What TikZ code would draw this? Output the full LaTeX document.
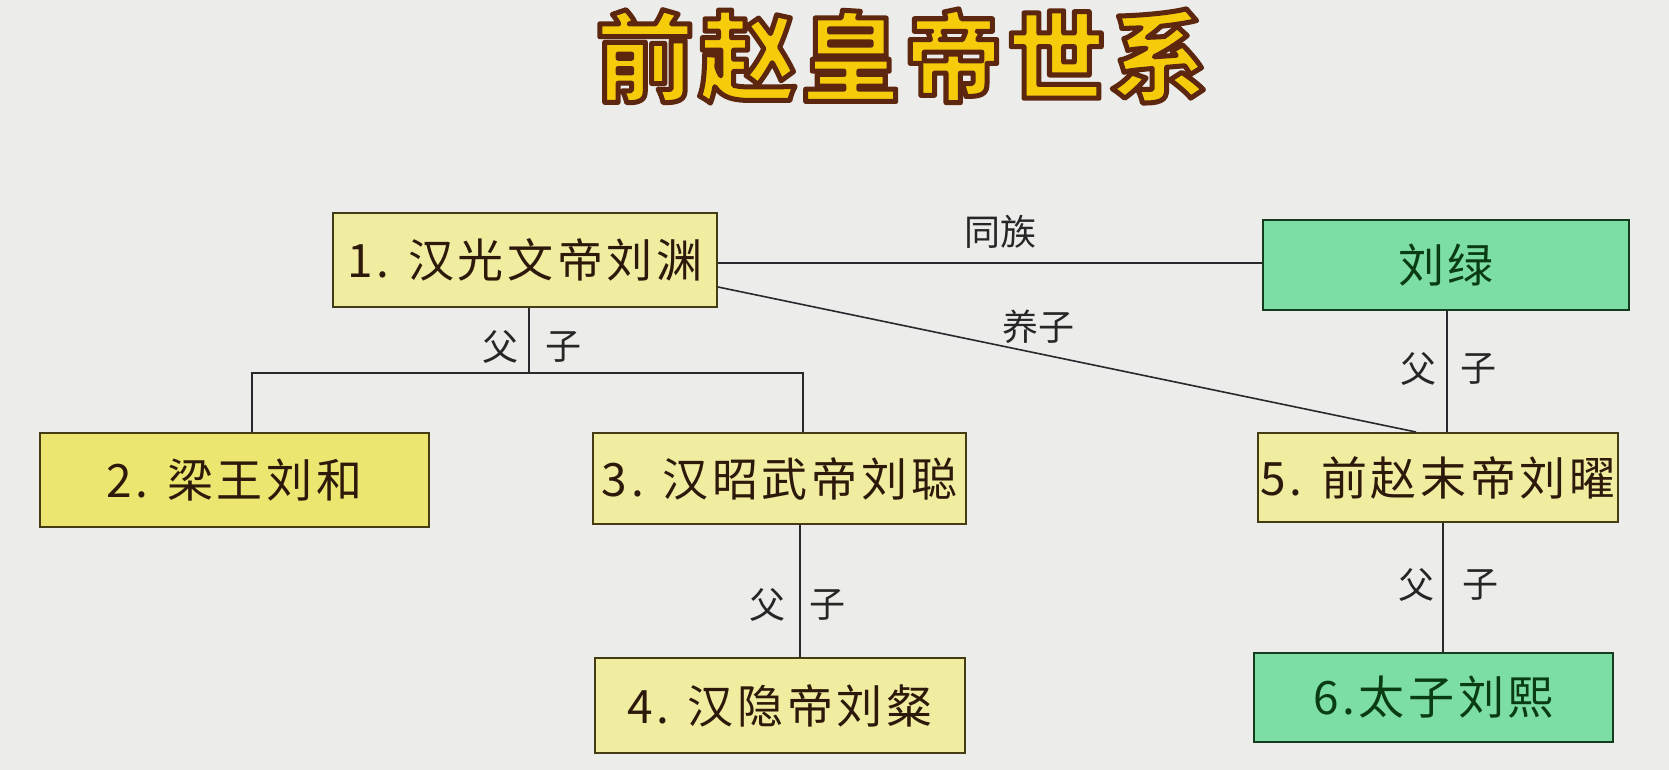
\documentclass[tikz,border=0pt]{standalone}
\usepackage{fontspec}
\newfontfamily\cjk{Noto Sans CJK SC}
\newfontfamily\cjkbox[LetterSpace=8]{Noto Sans CJK SC}
\newfontfamily\cjktitle[LetterSpace=5]{Noto Sans CJK SC}
\definecolor{bg}{RGB}{236,236,234}
\definecolor{yfill}{RGB}{240,236,160}
\definecolor{yfilltwo}{RGB}{236,230,112}
\definecolor{ydraw}{RGB}{70,60,20}
\definecolor{ytext}{RGB}{45,25,10}
\definecolor{gfill}{RGB}{124,222,162}
\definecolor{gdraw}{RGB}{20,60,30}
\definecolor{gtext}{RGB}{10,60,20}
\definecolor{titlefill}{RGB}{246,204,10}
\definecolor{linec}{RGB}{40,40,45}
\newcommand{\outlinedtitle}[1]{\special{pdf:literal direct 2 Tr 5 w 1 j 0.36 0.15 0.06 RG}#1\special{pdf:literal direct 0 Tr 1 w}}
\tikzset{
  ybox/.style={draw=ydraw, line width=2pt, fill=yfill, text=ytext, inner sep=0pt,
    font=\cjkbox\fontsize{46pt}{50pt}\selectfont},
  gbox/.style={draw=gdraw, line width=2pt, fill=gfill, text=gtext, inner sep=0pt,
    font=\cjkbox\fontsize{46pt}{50pt}\selectfont},
  rel/.style={text=black!85, inner sep=0pt, font=\cjk\fontsize{36pt}{40pt}\selectfont},
  conn/.style={draw=linec, line width=1.6pt},
  titletext/.style={inner sep=0pt, text=titlefill, font=\cjktitle\bfseries\fontsize{98pt}{100pt}\selectfont}
}
\begin{document}
\begin{tikzpicture}[x=1pt,y=-1pt]
\fill[bg] (0,0) rectangle (1669,770);
\useasboundingbox (0,0) rectangle (1669,770);
% title
\node[titletext] (title) at (902,56) {\outlinedtitle{前赵皇帝世系}};
% boxes
\node[ybox, minimum width=384pt, minimum height=94pt] (b1) at (525,260) {1. 汉光文帝刘渊};
\node[gbox, minimum width=366pt, minimum height=90pt] (lv) at (1446,265) {刘绿};
\node[ybox, fill=yfilltwo, minimum width=389pt, minimum height=94pt] (b2) at (234.5,480) {2. 梁王刘和};
\node[ybox, minimum width=373pt, minimum height=91pt] (b3) at (779.5,478.5) {3. 汉昭武帝刘聪};
\node[ybox, minimum width=360pt, minimum height=89pt] (b5) at (1438,477.5) {5. 前赵末帝刘曜};
\node[ybox, minimum width=370pt, minimum height=95pt] (b4) at (780,705.5) {4. 汉隐帝刘粲};
\node[gbox, minimum width=359pt, minimum height=89pt] (b6) at (1433.5,697.5) {6.太子刘熙};
% connectors
\coordinate (j1) at (529,373);
\coordinate (jl) at (252,373);
\coordinate (jr) at (803,373);
\draw[conn] (b1.south -| j1) -- (j1);
\draw[conn] (b2.north -| jl) -- (jl) -- (jr) -- (b3.north -| jr);
\coordinate (v34) at (800,0);
\draw[conn] (b3.south -| v34) -- (b4.north -| v34);
\coordinate (v15) at (1447,0);
\draw[conn] (lv.south -| v15) -- (b5.north -| v15);
\coordinate (v56) at (1443,0);
\draw[conn] (b5.south -| v56) -- (b6.north -| v56);
\coordinate (hz) at (0,263);
\draw[conn] (b1.east |- hz) -- (lv.west |- hz);
\coordinate (ys) at (0,287);
\coordinate (ye) at (1416,0);
\draw[conn] (b1.east |- ys) -- (b5.north -| ye);
% labels
\node[rel] (l1a) at (500,347) {父};
\node[rel] (l1b) at (563,347) {子};
\node[rel] (l2) at (1000,232) {同族};
\node[rel] (l3) at (1038,327) {养子};
\node[rel] (l4a) at (1418,369) {父};
\node[rel] (l4b) at (1478,369) {子};
\node[rel] (l5a) at (767,605) {父};
\node[rel] (l5b) at (827,605) {子};
\node[rel] (l6a) at (1416,585) {父};
\node[rel] (l6b) at (1480,585) {子};
\end{tikzpicture}
\end{document}
